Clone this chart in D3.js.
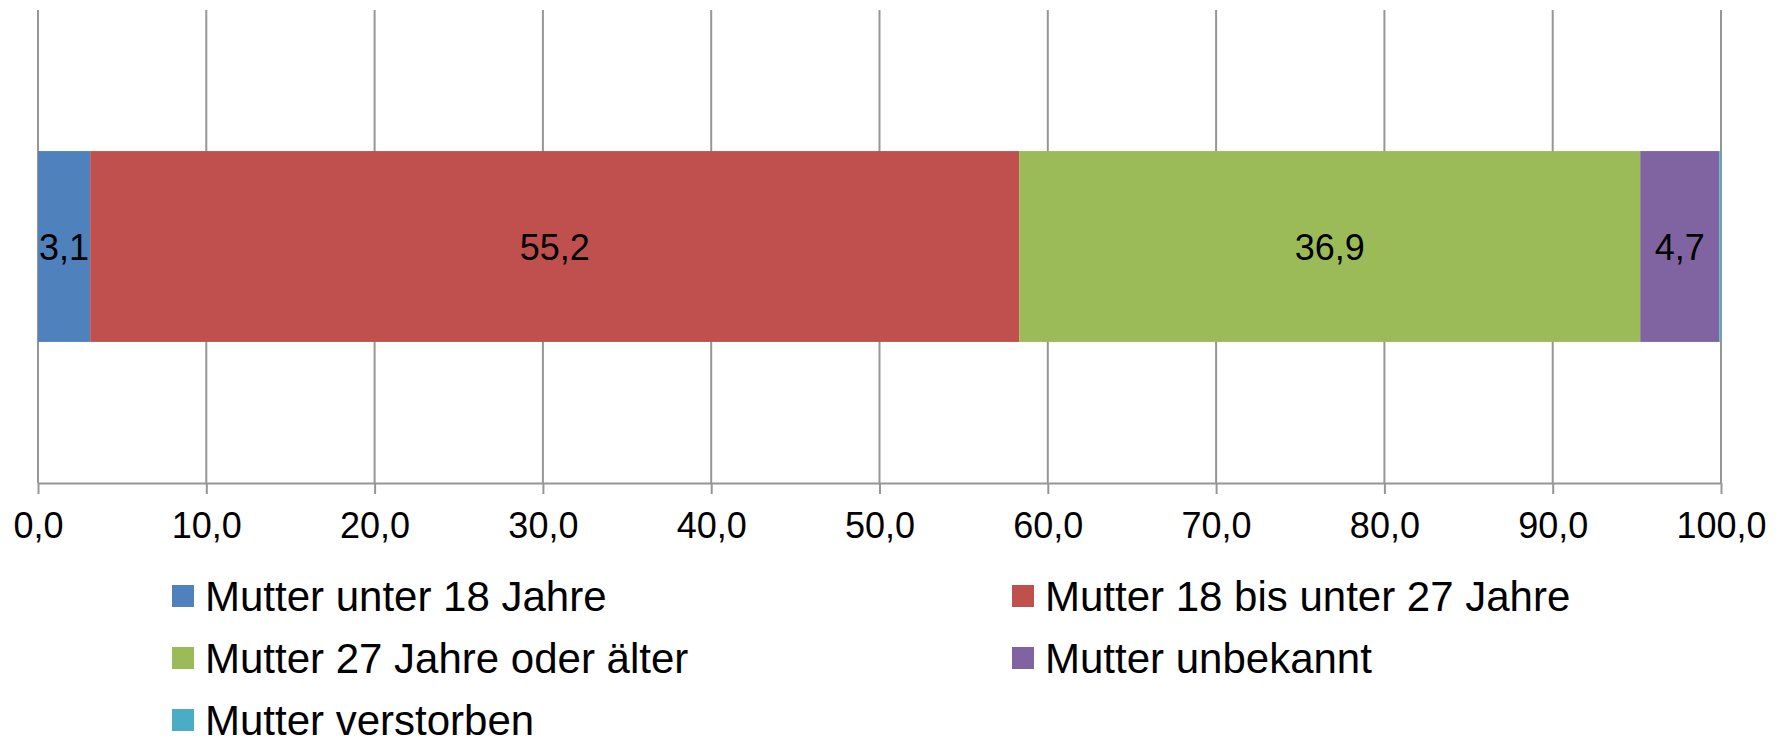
<!DOCTYPE html>
<html><head><meta charset="utf-8">
<script src="https://cdn.jsdelivr.net/npm/d3@7"></script>
<style>
html,body{margin:0;padding:0;background:#fff;}
svg{display:block;font-family:"Liberation Sans",Arial,sans-serif;}
</style></head>
<body>
<svg id="chart" width="1787" height="736"></svg>
<script>
const categories = [""];
const seriesNames = ["Mutter unter 18 Jahre","Mutter 18 bis unter 27 Jahre","Mutter 27 Jahre oder älter","Mutter unbekannt","Mutter verstorben"];
const seriesValues = [3.1, 55.2, 36.9, 4.7, 0.1];
const seriesColors = ["#4F81BD","#C0504D","#9BBB59","#8064A2","#4BACC6"];
const tickValues = [0,10,20,30,40,50,60,70,80,90,100];

(function(){
const svg = d3.select("#chart");
const pLeft = 38, pRight = 1721, pTop = 10, pBottom = 483;
const x = d3.scaleLinear().domain([0,100]).range([pLeft,pRight]);
const y = d3.scaleBand().domain(categories).range([pTop,pBottom]).padding(0.425);
const de = d3.formatLocale({decimal:",", thousands:".", grouping:[3], currency:["","€"]});
const fmt = de.format(".1f");

// gridlines
svg.append("g").selectAll("line").data(tickValues).join("line")
  .attr("x1", d=>x(d)).attr("x2", d=>x(d))
  .attr("y1", pTop).attr("y2", pBottom)
  .attr("stroke", "#969696").attr("stroke-width", 2);

// stacked segments
let cum = 0;
const segs = seriesValues.map((v,i)=>{ const s={name:seriesNames[i], v, x0:cum, x1:cum+v, c:seriesColors[i]}; cum+=v; return s; });
const cat = categories[0];
svg.append("g").selectAll("rect").data(segs).join("rect")
  .attr("x", d=>x(d.x0)).attr("width", d=>x(d.x1)-x(d.x0))
  .attr("y", y(cat)).attr("height", y.bandwidth())
  .attr("fill", d=>d.c);

svg.append("g").selectAll("text").data(segs.filter(d=>d.v>=1)).join("text")
  .attr("x", d=>(x(d.x0)+x(d.x1))/2)
  .attr("y", y(cat)+y.bandwidth()/2 + 13)
  .attr("text-anchor","middle")
  .attr("font-size", 36).attr("fill","#000")
  .text(d=>fmt(d.v));

// axis
const axis = d3.axisBottom(x).tickValues(tickValues).tickFormat(fmt).tickSize(11).tickSizeOuter(0).tickPadding(18);
const ag = svg.append("g").attr("transform",`translate(0,${pBottom})`).call(axis);
ag.select(".domain").attr("stroke","#969696").attr("stroke-width",2);
ag.selectAll(".tick line").attr("stroke","#969696").attr("stroke-width",2);
ag.selectAll(".tick text").attr("font-size",36).attr("fill","#000")
  .attr("font-family","'Liberation Sans',Arial,sans-serif");

// legend
const legendX = [172, 1012];
const legendY = [596, 658, 720];
const lg = svg.append("g").selectAll("g").data(seriesNames).join("g")
  .attr("transform",(d,i)=>`translate(${legendX[i%2]},${legendY[Math.floor(i/2)]})`);
lg.append("rect").attr("x",0).attr("y",-11).attr("width",22).attr("height",22)
  .attr("fill",(d,i)=>seriesColors[i]);
lg.append("text").attr("x",33).attr("y",15).attr("font-size",42).attr("fill","#000").text(d=>d);
})();
</script>
</body></html>
